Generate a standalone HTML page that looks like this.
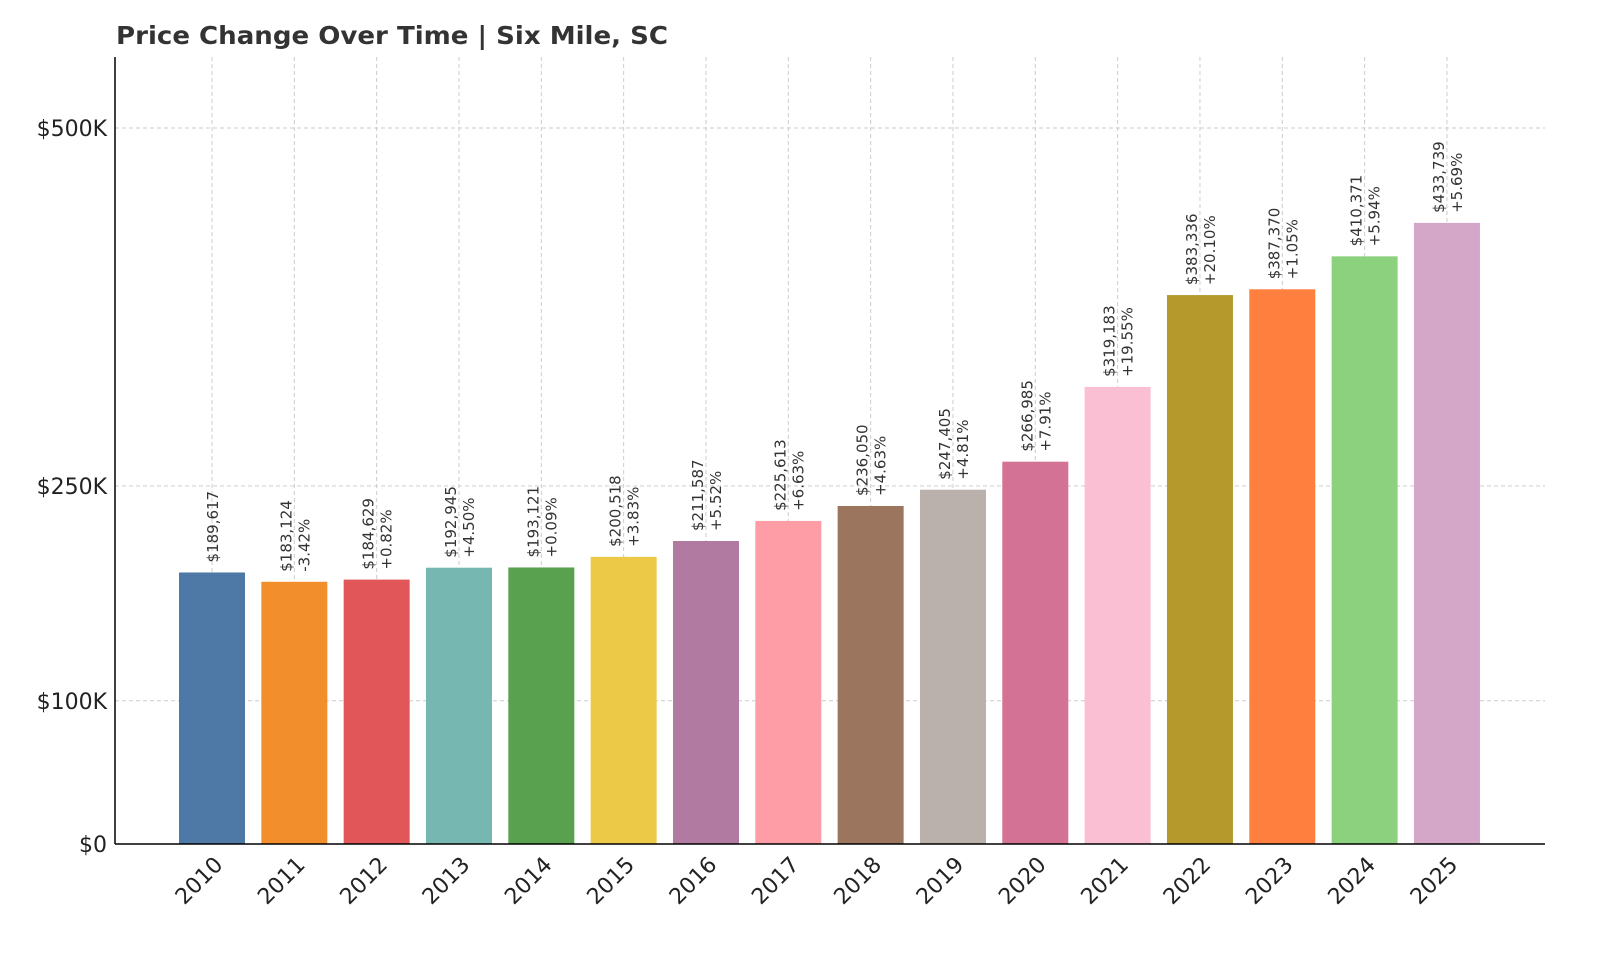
<!DOCTYPE html>
<html><head><meta charset="utf-8"><style>
body{margin:0;background:#fff;}
svg{display:block;font-family:"DejaVu Sans","Liberation Sans",sans-serif;}
</style></head><body>
<svg id="chart" width="1600" height="960">
<text x="116" y="44" font-size="25" font-weight="bold" fill="#333" textLength="552" lengthAdjust="spacingAndGlyphs">Price Change Over Time | Six Mile, SC</text>
<g id="grid"></g><g id="bars"></g><g id="labels"></g><g id="axes"></g>
</svg>
<script>
const years=["2010","2011","2012","2013","2014","2015","2016","2017","2018","2019","2020","2021","2022","2023","2024","2025"];
const values=[189617,183124,184629,192945,193121,200518,211587,225613,236050,247405,266985,319183,383336,387370,410371,433739];
const changes=["","-3.42%","+0.82%","+4.50%","+0.09%","+3.83%","+5.52%","+6.63%","+4.63%","+4.81%","+7.91%","+19.55%","+20.10%","+1.05%","+5.94%","+5.69%"];
const yTicks=[0,100000,250000,500000];
const yTickLabels=["$0","$100K","$250K","$500K"];
const colors=["#4e79a7","#f28e2b","#e15759","#76b7b2","#59a14f","#edc948","#b07aa1","#ff9da7","#9c755f","#bab0ac","#d37295","#fabfd2","#b6992d","#ff7f3f","#8cd17d","#d4a6c8"];
const NS="http://www.w3.org/2000/svg";
const x0=212,step=82.33,bw=66,yBase=844,scale=0.001432,plotLeft=115,plotRight=1545,plotTop=57;
const X=i=>x0+i*step, Y=v=>yBase-v*scale;
function mk(tag,attrs,parent,txt){const e=document.createElementNS(NS,tag);for(const k in attrs)e.setAttribute(k,attrs[k]);if(txt!==undefined)e.textContent=txt;parent.appendChild(e);return e;}
const gridG=document.getElementById('grid'),barsG=document.getElementById('bars'),labelsG=document.getElementById('labels'),axesG=document.getElementById('axes');
yTicks.forEach((t,i)=>{
 const l=mk('line',{x1:plotLeft,x2:plotRight,y1:Y(t),y2:Y(t),stroke:'#ccc','stroke-dasharray':'4,3'},gridG);
 
 
 const tx=mk('text',{x:plotLeft-8,y:Y(t)+8,'text-anchor':'end','font-size':22,fill:'#222'},axesG,yTickLabels[i]);
 
 
});
years.forEach((yr,i)=>{
 const cx=X(i);
 const gl=mk('line',{x1:cx,x2:cx,y1:plotTop,y2:yBase,stroke:'#ccc','stroke-dasharray':'4,3'},gridG);
 
 
 const r=mk('rect',{x:cx-bw/2,y:Y(values[i]),width:bw,height:values[i]*scale,fill:colors[i]},barsG);
 
 
 const by=Y(values[i])-10;
 const price='$'+values[i].toLocaleString('en-US');
 const two=changes[i]!=="";
 const t1=mk('text',{transform:'translate('+(two?cx-3:cx+6)+','+by+') rotate(-90)','font-size':15,fill:'#333'},labelsG,price);
 
 
 if(two){
  const t2=mk('text',{transform:'translate('+(cx+15)+','+by+') rotate(-90)','font-size':15,fill:'#333'},labelsG,changes[i]);
  
  
 }
 const xt=mk('text',{transform:'translate('+(cx+12)+','+(yBase+22)+') rotate(-45)','text-anchor':'end','font-size':22,fill:'#222'},axesG,yr);
 
 
});
const ya=mk('line',{x1:plotLeft,x2:plotLeft,y1:plotTop,y2:yBase,stroke:'#000','stroke-width':1.5},axesG);


const xa=mk('line',{x1:plotLeft,x2:plotRight,y1:yBase,y2:yBase,stroke:'#000','stroke-width':1.5},axesG);


</script>
</body></html>
